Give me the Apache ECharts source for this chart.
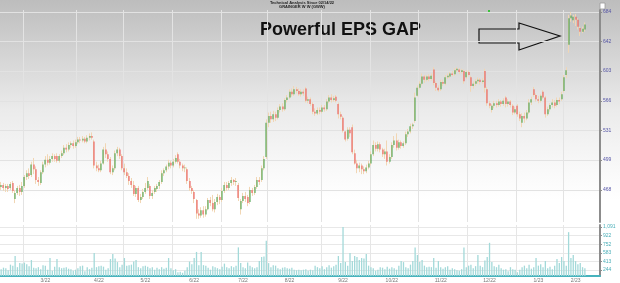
<!DOCTYPE html>
<html>
<head>
<meta charset="utf-8">
<script src="https://cdn.jsdelivr.net/npm/echarts@6/dist/echarts.min.js"></script>
<style>
html, body { margin: 0; padding: 0; }
#main {
    width: 620px; height: 283px;
    background: linear-gradient(to bottom, #bdbdbd 0px, #d2d2d2 50px, #ebebeb 110px, #f9f9f9 170px, #ffffff 200px);
}
</style>
</head>
<body>
<div id="main"></div>
<script>
var startDate = '2022-02-14';
var holidays = ['2022-02-21', '2022-04-15', '2022-05-30', '2022-06-20', '2022-07-04',
    '2022-09-05', '2022-11-24', '2022-12-26', '2023-01-02', '2023-01-16'];

// daily bars: [open, close, low, high]
var priceBars = [
    [471,473,468,476],[473,470,467,475],[470,472,466,474],[472,469,466,474],[470,474,468,476],
    [475,467,465,477],[459,465,455,468],[465,470,463,472],[470,466,462,473],[466,472,463,476],
    [472,481,470,483],[481,485,478,488],[485,482,479,490],[483,494,481,497],[494,489,484,501],
    [489,478,474,492],[478,476,472,481],[475,486,473,488],[486,494,484,497],[494,499,491,503],
    [499,496,493,505],[496,500,494,503],[500,503,497,506],[503,500,497,505],[503,498,496,506],
    [498,503,496,505],[503,506,501,509],[506,512,504,515],[512,510,507,516],[510,515,508,518],
    [515,517,512,519],[517,514,511,520],[514,518,512,521],[518,521,516,524],[521,520,517,524],
    [520,522,518,525],[522,519,517,524],[519,523,517,526],[523,525,520,528],[525,523,521,529],
    [519,493,490,521],[493,490,487,497],[490,488,486,494],[488,495,486,498],[495,510,494,513],
    [510,505,501,517],[505,500,497,508],[500,486,484,502],[486,490,483,493],[490,506,488,509],
    [506,510,503,513],[510,503,500,512],[503,490,488,505],[490,486,483,495],[486,482,480,490],
    [482,477,473,485],[477,473,470,480],[473,464,462,477],[464,470,461,472],[470,458,456,472],
    [458,461,455,464],[461,466,459,469],[466,470,464,475],[470,477,468,481],[472,462,459,474],
    [462,465,459,468],[466,470,464,472],[469,472,466,474],[472,476,469,478],[476,485,474,488],
    [485,488,482,490],[488,492,486,494],[492,496,489,499],[496,493,490,498],[493,497,491,500],
    [497,501,495,504],[505,497,495,507],[497,493,490,500],[493,490,487,495],[490,491,486,494],
    [489,477,474,491],[477,470,467,480],[470,467,464,472],[466,459,455,468],[458,445,440,459],
    [445,443,440,449],[443,448,441,451],[448,444,441,452],[444,449,442,452],[449,458,448,460],
    [458,455,452,461],[455,449,447,463],[449,456,446,459],[456,461,453,464],[461,458,454,463],
    [458,467,456,470],[467,473,465,476],[473,470,467,476],[470,475,468,477],[475,478,472,481],
    [478,476,473,479],[476,477,472,480],[473,460,457,475],[449,457,444,459],[457,462,455,465],
    [462,459,456,466],[461,455,452,463],[456,468,454,471],[468,465,462,470],[465,471,463,473],
    [471,478,469,481],[478,476,473,481],[478,490,476,493],[490,500,488,503],[502,540,500,544],
    [540,548,535,552],[548,544,540,553],[544,550,541,554],[550,546,542,553],[546,555,544,558],
    [555,559,552,562],[559,556,553,563],[556,567,554,569],[567,570,564,573],[570,577,568,580],
    [577,574,571,581],[574,580,572,584],[580,578,575,583],[578,574,572,581],[574,577,571,580],
    [577,575,572,580],[581,566,564,583],[566,568,563,571],[568,562,560,570],[562,553,550,564],
    [553,551,548,557],[551,555,549,558],[555,553,550,558],[553,558,551,561],[558,556,553,561],
    [556,565,554,568],[565,570,563,573],[570,567,564,574],[567,569,565,572],[571,566,564,573],
    [562,550,545,564],[550,547,544,553],[546,531,529,548],[530,521,519,531],[522,532,520,535],
    [532,528,524,535],[535,507,505,538],[506,495,494,510],[495,490,485,499],[490,493,486,496],
    [493,489,484,495],[489,487,484,492],[487,491,485,494],[491,495,489,498],[495,505,493,508],
    [505,515,503,520],[515,511,508,518],[511,516,508,519],[516,510,507,518],[510,505,502,512],
    [505,508,500,511],[508,497,493,520],[497,502,495,505],[502,515,500,518],[515,520,512,525],
    [520,512,509,528],[512,518,510,521],[518,514,511,520],[514,517,512,519],[517,527,515,530],
    [527,530,524,533],[530,536,528,539],[536,538,533,540],[542,570,540,576],[572,582,571,585],
    [582,587,580,590],[587,596,585,600],[596,592,588,598],[592,596,590,598],[596,593,590,599],
    [593,597,591,600],[605,588,585,608],[588,582,578,590],[582,579,577,585],[580,589,578,592],
    [589,587,584,592],[587,595,585,598],[595,597,593,600],[596,600,594,602],[600,598,596,603],
    [599,604,597,607],[604,606,602,608],[605,602,599,607],[602,604,600,606],[603,590,587,605],
    [595,602,593,604],[602,598,596,604],[595,584,577,597],[584,587,581,590],[587,590,584,593],
    [590,592,587,595],[592,589,586,594],[589,591,587,594],[603,582,576,606],[580,563,560,583],
    [563,560,557,566],[555,560,552,562],[560,563,557,566],[563,561,558,566],[561,565,559,568],
    [565,562,559,567],[562,566,560,569],[570,562,558,572],[562,565,559,568],[565,561,558,567],
    [560,552,549,562],[552,556,550,559],[560,550,547,562],[550,545,542,553],[540,548,535,551],
    [548,545,540,552],[545,552,543,555],[552,564,550,568],[564,568,561,571],[580,573,571,583],
    [573,568,565,575],[568,566,563,572],[566,572,564,574],[577,570,568,579],[570,550,546,572],
    [550,556,548,559],[556,561,553,563],[561,564,558,568],[564,560,557,567],[561,567,559,570],
    [567,565,562,570],[568,574,566,577],[578,595,576,598],[598,604,594,608],[638,675,627,680],
    [675,679,670,684],[672,677,668,680],[677,673,664,681],[673,663,659,675],[661,656,650,663],
    [656,660,654,663],[659,666,656,669]
];

var volumes = [
    260, 290, 280, 240, 350, 330, 520, 300, 380, 370,
    390, 360, 320, 440, 290, 280, 300, 260, 340, 330,
    250, 480, 230, 310, 460, 300, 280, 290, 300, 270,
    260, 230, 250, 280, 320, 330, 220, 300, 260, 290,
    580, 300, 320, 330, 310, 250, 280, 460, 560, 470,
    400, 300, 350, 480, 330, 340, 350, 410, 440, 300,
    280, 320, 330, 310, 280, 300, 250, 290, 260, 300,
    270, 290, 480, 280, 240, 260, 200, 210, 190, 230,
    300, 410, 360, 480, 600, 340, 600, 340, 330, 290,
    250, 320, 300, 280, 260, 310, 370, 300, 280, 320,
    300, 330, 690, 380, 300, 280, 390, 330, 300, 280,
    300, 420, 500, 510, 820, 380, 300, 340, 330, 280,
    260, 290, 300, 280, 270, 290, 250, 240, 250, 240,
    250, 260, 230, 250, 240, 330, 300, 280, 320, 260,
    300, 340, 290, 320, 350, 520, 380, 1090, 400, 330,
    580, 420, 520, 500, 440, 480, 470, 560, 330, 300,
    280, 230, 250, 300, 290, 260, 310, 270, 300, 280,
    250, 330, 420, 400, 300, 280, 350, 420, 690, 540,
    400, 440, 330, 300, 310, 300, 480, 290, 420, 300,
    270, 300, 320, 250, 280, 260, 240, 230, 260, 690,
    300, 330, 350, 280, 320, 540, 330, 300, 430, 500,
    780, 400, 320, 300, 350, 280, 250, 260, 220, 300,
    260, 250, 200, 250, 300, 330, 280, 350, 270, 300,
    480, 330, 360, 300, 420, 280, 310, 260, 330, 460,
    380, 500, 420, 330, 990, 480, 540, 420, 360, 380,
    300, 280
];

var priceTicks = [468, 499, 531, 566, 603, 642, 684];
var volumeTicks = [244, 413, 583, 752, 922, 1091];
var blankDays = 6;

// trading days from startDate
var dates = [];
var d = new Date(startDate + 'T00:00:00Z');
while (dates.length < priceBars.length) {
    var s = d.toISOString().slice(0, 10);
    var wd = d.getUTCDay();
    if (wd !== 0 && wd !== 6 && holidays.indexOf(s) < 0) dates.push(s);
    d.setUTCDate(d.getUTCDate() + 1);
}
var cats = dates.slice();
for (var k = 0; k < blankDays; k++) cats.push('blank' + k);

// month boundaries and label spots
var monthStarts = [];
for (var i = 1; i < dates.length; i++) {
    if (dates[i].slice(0, 7) !== dates[i - 1].slice(0, 7)) monthStarts.push(i);
}
var labelIdx = {};
monthStarts.forEach(function (st, j) {
    var end = j + 1 < monthStarts.length ? monthStarts[j + 1] : dates.length;
    labelIdx[st + Math.min(9, Math.floor((end - st) / 2))] = true;
});
function isMonthStart(idx) { return monthStarts.indexOf(idx) >= 0; }

var bodies = priceBars.map(function (b) {
    return [b[0], b[1], Math.min(b[0], b[1]), Math.max(b[0], b[1])];
});

var chart = echarts.init(document.getElementById('main'));
var option = {
    animation: false,
    backgroundColor: 'transparent',
    grid: [
        {left: 0, right: 20, top: 10, height: 212, outerBoundsMode: 'none'},
        {left: 0, right: 20, top: 225, height: 51, outerBoundsMode: 'none'}
    ],
    xAxis: [
        {
            type: 'category', gridIndex: 0, data: cats,
            axisLine: {show: false}, axisTick: {show: false}, axisLabel: {show: false},
            splitLine: {show: true, interval: isMonthStart, lineStyle: {color: '#e3e3e3', width: 1}}
        },
        {
            type: 'category', gridIndex: 1, data: cats,
            axisLine: {show: true, lineStyle: {color: '#47b3bd', width: 2}},
            axisTick: {show: false},
            axisLabel: {
                interval: function (idx) { return !!labelIdx[idx]; },
                formatter: function (v) {
                    return (+v.slice(5, 7)) + '/' + v.slice(2, 4);
                },
                fontSize: 5, color: '#777', margin: 2, fontFamily: 'Liberation Sans'
            },
            splitLine: {show: true, interval: isMonthStart, lineStyle: {color: '#e6e6e6', width: 1}}
        }
    ],
    yAxis: [
        {
            type: 'log', gridIndex: 0, position: 'right', min: 437, max: 687,
            axisLine: {show: true, lineStyle: {color: '#8c8c8c', width: 2}},
            axisTick: {show: true, length: 2, customValues: priceTicks, lineStyle: {color: '#8c8c8c'}},
            axisLabel: {
                customValues: priceTicks, fontSize: 5, color: '#5656a6', margin: 3,
                fontFamily: 'Liberation Sans',
                formatter: function (v) { return Math.round(v); }
            },
            splitLine: {show: true, lineStyle: {color: '#e2e2e2', width: 1}}
        },
        {
            type: 'value', gridIndex: 1, position: 'right', min: 126, max: 1131,
            axisLine: {show: true, lineStyle: {color: '#8c8c8c', width: 2}},
            axisTick: {show: true, length: 2, customValues: volumeTicks, lineStyle: {color: '#8c8c8c'}},
            axisLabel: {
                customValues: volumeTicks, fontSize: 5, color: '#4aaeb8', margin: 3,
                fontFamily: 'Liberation Sans',
                formatter: function (v) { return Math.round(v).toLocaleString('en-US'); }
            },
            splitLine: {show: true, lineStyle: {color: '#e8e8e8', width: 1}}
        }
    ],
    series: [
        {
            name: 'range', type: 'candlestick', xAxisIndex: 0, yAxisIndex: 0,
            data: priceBars, barWidth: 1,
            itemStyle: {color: '#f1d6b4', color0: '#f1d6b4', borderColor: '#f1d6b4', borderColor0: '#f1d6b4', borderWidth: 1}
        },
        {
            name: 'body', type: 'candlestick', xAxisIndex: 0, yAxisIndex: 0,
            data: bodies, barWidth: 1.5,
            itemStyle: {color: '#3c9c3e', color0: '#ea4d4d', borderColor: '#3c9c3e', borderColor0: '#ea4d4d', borderWidth: 0}
        },
        {
            name: 'volume', type: 'bar', xAxisIndex: 1, yAxisIndex: 1,
            data: volumes, barWidth: 1.3,
            itemStyle: {color: '#a3d9d9'}
        }
    ],
    graphic: [
        {type: 'text', x: 302, y: 2.5, style: {text: 'Technical Analysis Since 02/14/22', font: 'bold 4px Liberation Sans', fill: '#222', textAlign: 'center', textVerticalAlign: 'middle'}},
        {type: 'text', x: 302, y: 6.5, style: {text: 'GRAINGER W W (GWW)', font: 'bold 4px Liberation Sans', fill: '#222', textAlign: 'center', textVerticalAlign: 'middle'}},
        {type: 'text', x: 260, y: 30, style: {text: 'Powerful EPS GAP', font: 'bold 18px Liberation Sans', fill: '#111', textAlign: 'left', textVerticalAlign: 'middle'}},
        {type: 'polygon', shape: {points: [[479, 29], [519, 29], [519, 23], [560, 36], [519, 50], [519, 43], [479, 43]]},
            style: {fill: 'rgba(0,0,0,0)', stroke: '#111', lineWidth: 1.2}},
        {type: 'rect', shape: {x: 488, y: 10, width: 2, height: 2}, style: {fill: '#3cc23c'}},
        {type: 'rect', shape: {x: 600, y: 3, width: 5, height: 6}, style: {fill: '#fff', stroke: '#9a9a9a', lineWidth: 0.8}}
    ]
};
chart.setOption(option);
</script>
</body>
</html>
